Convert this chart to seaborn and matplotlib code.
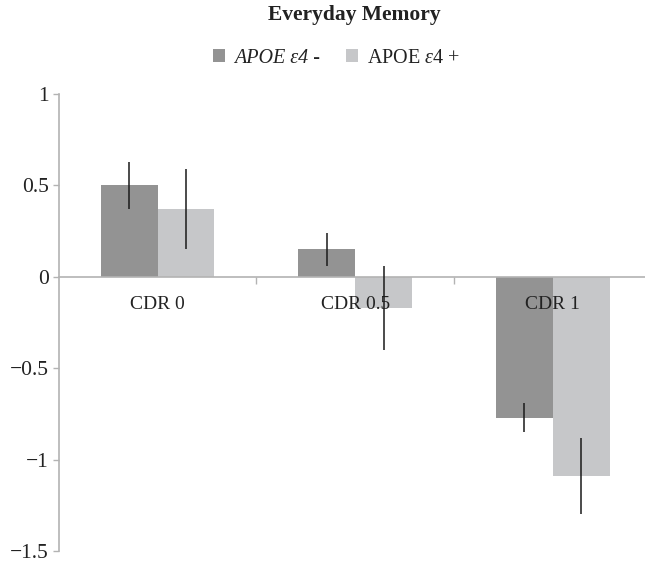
import matplotlib
matplotlib.use("Agg")
import matplotlib.pyplot as plt
import seaborn as sns
import pandas as pd
from matplotlib.ticker import FixedLocator
from matplotlib.container import BarContainer

categories = ["CDR 0", "CDR 0.5", "CDR 1"]
groups = ["APOE ε4 -", "APOE ε4 +"]
legend_labels = ["APOE ε4 -", r"APOE $\mathit{ε4}$ +"]
neg_means = [0.50, 0.15, -0.77]
neg_err = [0.13, 0.09, 0.08]
pos_means = [0.37, -0.17, -1.09]
pos_err = [0.22, 0.23, 0.21]
yticks = [1, 0.5, 0, -0.5, -1, -1.5]
ytick_labels = ["1", "0.5", "0", "\u22120.5", "\u22121", "\u22121.5"]

sns.set_theme(style="white")
plt.rcParams["font.family"] = ["Liberation Serif", "DejaVu Serif"]
plt.rcParams["mathtext.fontset"] = "custom"
plt.rcParams["mathtext.rm"] = "Liberation Serif"
plt.rcParams["mathtext.it"] = "Liberation Serif:italic"

df = pd.DataFrame({
    "cat": categories * 2,
    "grp": [groups[0]] * 3 + [groups[1]] * 3,
    "val": neg_means + pos_means,
    "err": neg_err + pos_err,
})

colors = ["#939393", "#c6c7c9"]
axis_col = "#b3b3b3"
text_col = "#222222"

fig = plt.figure(figsize=(6.45, 5.64), dpi=100)
ax = fig.add_axes([58.7 / 645, 13 / 564, (651.5 - 58.7) / 645, (551 - 94) / 564])

sns.barplot(data=df, x="cat", y="val", hue="grp", order=categories, hue_order=groups,
            palette=colors, width=0.575, gap=0, errorbar=None, linewidth=0,
            saturation=1, ax=ax, legend=True)

bar_containers = [c for c in ax.containers if isinstance(c, BarContainer)]
for gi, cont in enumerate(bar_containers):
    sub = df[df.grp == groups[gi]].set_index("cat").loc[categories]
    for ci, bar in enumerate(cont):
        xc = bar.get_x() + bar.get_width() / 2
        yv = bar.get_y() + bar.get_height()
        ax.errorbar(xc, yv, yerr=float(sub["err"].iloc[ci]), fmt="none", ecolor="#1a1a1a",
                    elinewidth=1.1, capsize=0, zorder=5)

ax.set_axisbelow(False)
ax.set_ylim(-1.5, 1)
ax.set_xlim(-0.5, 2.5)
ax.set_yticks(yticks)
ax.set_yticklabels(ytick_labels)
ax.set_xlabel("")
ax.set_ylabel("")

for s in ["top", "right"]:
    ax.spines[s].set_visible(False)
ax.spines["bottom"].set_position(("data", 0))
ax.spines["bottom"].set_color(axis_col)
ax.spines["left"].set_color(axis_col)
ax.spines["bottom"].set_linewidth(1.2)
ax.spines["left"].set_linewidth(1.2)

ax.xaxis.set_minor_locator(FixedLocator([0.5, 1.5]))
ax.tick_params(axis="x", which="major", length=0, pad=14, labelsize=14, labelcolor=text_col)
ax.tick_params(axis="x", which="minor", length=5, width=1, color=axis_col, direction="out", bottom=True)
ax.tick_params(axis="y", which="major", length=4, width=1, color=axis_col, direction="out",
               left=True, labelsize=15.5, labelcolor=text_col, pad=3)

handles, _ = ax.get_legend_handles_labels()
leg = ax.legend(handles, legend_labels, loc="center", bbox_to_anchor=(0.522, 0.897),
                bbox_transform=fig.transFigure, ncol=2, frameon=False, fontsize=14.5,
                handlelength=0.6, handleheight=0.6, handletextpad=0.45, columnspacing=1.3,
                labelcolor=text_col)
leg.get_texts()[0].set_fontstyle("italic")

fig.text(0.55, 0.973, "Everyday Memory", ha="center", va="center", fontsize=15.5,
         fontweight="bold", color=text_col)

fig.savefig("out.png", dpi=100)
